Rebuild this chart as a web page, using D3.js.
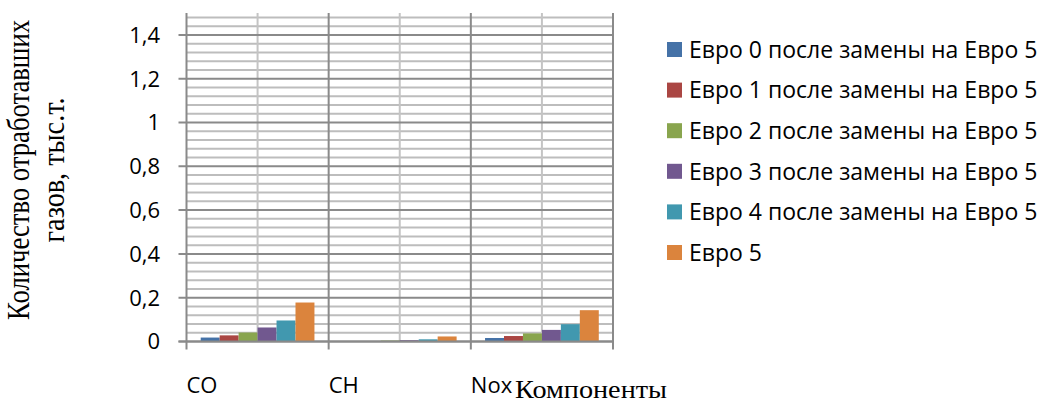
<!DOCTYPE html>
<html>
<head>
<meta charset="utf-8">
<script src="https://cdn.jsdelivr.net/npm/d3@7"></script>
<style>
  html, body { margin: 0; padding: 0; background: #fff; }
  svg { display: block; }
</style>
</head>
<body>
<svg id="chart" width="1042" height="403"></svg>
<script>
// Exhaust gas components
const categories = ["CO", "CH", "Nox"];

// Emissions per component, thousand tonnes
const euro0to5 = [0.018, 0.0005, 0.016];
const euro1to5 = [0.028, 0.001, 0.025];
const euro2to5 = [0.041, 0.004, 0.037];
const euro3to5 = [0.064, 0.006, 0.053];
const euro4to5 = [0.096, 0.010, 0.079];
const euro5    = [0.178, 0.023, 0.143];

const seriesNames = [
  "Евро 0 после замены на Евро 5",
  "Евро 1 после замены на Евро 5",
  "Евро 2 после замены на Евро 5",
  "Евро 3 после замены на Евро 5",
  "Евро 4 после замены на Евро 5",
  "Евро 5"
];
const seriesValues = [euro0to5, euro1to5, euro2to5, euro3to5, euro4to5, euro5];
const seriesColors = ["#4572a7", "#aa4643", "#89a54e", "#71588f", "#4198af", "#db843d"];

const yMajorTicks = [0, 0.2, 0.4, 0.6, 0.8, 1.0, 1.2, 1.4];
const yTickLabels = ["0", "0,2", "0,4", "0,6", "0,8", "1", "1,2", "1,4"];
const yMinorStep = 0.04;
const yMax = 1.5;

const yTitleLines = ["Количество отработавших", "газов, тыс.т."];
const xTitle = "Компоненты";

const svg = d3.select("#chart");
const plot = { left: 186.5, right: 613, top: 13, bottom: 341.5 };

const x = d3.scaleBand().domain(categories).range([plot.left, plot.right]).paddingInner(0).paddingOuter(0);
const y = d3.scaleLinear().domain([0, yMax]).range([plot.bottom, plot.top]);

// Gap width 150%: 6 bars + 1.5 bar widths of gap per category
const barW = x.bandwidth() / (seriesNames.length + 1.5);
const xs = d3.scaleBand().domain(d3.range(seriesNames.length))
  .range([barW * 0.75, barW * 0.75 + barW * seriesNames.length]).padding(0);

const sansFont = "'Open Sans', Lato, sans-serif";
const serifFont = "'Liberation Serif', 'DejaVu Serif', serif";

// Minor horizontal gridlines
const minorTicks = d3.range(0, yMax - 1e-9, yMinorStep).filter(v => Math.abs(v / 0.2 - Math.round(v / 0.2)) > 1e-6);
svg.append("g").selectAll("line").data(minorTicks).join("line")
  .attr("x1", plot.left).attr("x2", plot.right)
  .attr("y1", d => y(d)).attr("y2", d => y(d))
  .attr("stroke", "#bdbdbd").attr("stroke-width", 2);

// Vertical gridlines: light at category centres, darker at category edges
svg.append("g").selectAll("line").data(categories).join("line")
  .attr("x1", d => x(d) + x.bandwidth() / 2).attr("x2", d => x(d) + x.bandwidth() / 2)
  .attr("y1", plot.top).attr("y2", plot.bottom)
  .attr("stroke", "#c4c4c4").attr("stroke-width", 2);

const edges = categories.map(c => x(c)).concat([plot.right]);
svg.append("g").selectAll("line").data(edges).join("line")
  .attr("x1", d => d).attr("x2", d => d)
  .attr("y1", plot.top).attr("y2", plot.bottom + 8)
  .attr("stroke", "#8a8a8a").attr("stroke-width", 2);

// Major horizontal gridlines with ticks left of the axis
svg.append("g").selectAll("line").data(yMajorTicks).join("line")
  .attr("x1", plot.left - 8).attr("x2", plot.right)
  .attr("y1", d => y(d)).attr("y2", d => y(d))
  .attr("stroke", "#8a8a8a").attr("stroke-width", 2);

// Bars
const groups = svg.append("g").selectAll("g").data(seriesValues).join("g")
  .attr("fill", (d, i) => seriesColors[i]);
groups.each(function(vals, si) {
  d3.select(this).selectAll("rect").data(vals).join("rect")
    .attr("x", (v, ci) => x(categories[ci]) + xs(si))
    .attr("width", xs.bandwidth())
    .attr("y", v => y(v))
    .attr("height", v => y(0) - y(v));
});

// X axis line on top of bars
svg.append("line")
  .attr("x1", plot.left - 8).attr("x2", plot.right)
  .attr("y1", y(0)).attr("y2", y(0))
  .attr("stroke", "#8a8a8a").attr("stroke-width", 2);

// Y tick labels
svg.append("g").selectAll("text").data(yMajorTicks).join("text")
  .attr("x", 160).attr("y", d => y(d))
  .attr("dy", "0.36em")
  .attr("text-anchor", "end")
  .attr("font-family", sansFont).attr("font-size", 22)
  .attr("fill", "#000")
  .text((d, i) => yTickLabels[i]);

// Category labels, left-aligned at each category edge
svg.append("g").selectAll("text").data(categories).join("text")
  .attr("x", d => x(d)).attr("y", 393)
  .attr("font-family", sansFont).attr("font-size", 22)
  .attr("fill", "#000")
  .text(d => d);

// X axis title
svg.append("text")
  .attr("x", 515).attr("y", 398)
  .attr("font-family", serifFont).attr("font-size", 26)
  .attr("textLength", 152).attr("lengthAdjust", "spacingAndGlyphs")
  .attr("fill", "#000")
  .text(xTitle);

// Y axis title (rotated, two centred lines, glyphs drawn taller than wide)
const yTitleLengths = [300, 145];
const yTitleStretch = 1.25;
const yTitle = svg.append("text")
  .attr("transform", `translate(0,170) rotate(-90) scale(1,${yTitleStretch})`)
  .attr("text-anchor", "middle")
  .attr("font-family", serifFont).attr("font-size", 26)
  .attr("fill", "#000");
yTitle.selectAll("tspan").data(yTitleLines).join("tspan")
  .attr("x", 0).attr("y", (d, i) => (28.5 + i * 36) / yTitleStretch)
  .attr("textLength", (d, i) => yTitleLengths[i])
  .attr("lengthAdjust", "spacingAndGlyphs")
  .text(d => d);

// Legend
const legend = svg.append("g").selectAll("g").data(seriesNames).join("g")
  .attr("transform", (d, i) => `translate(667,${49.5 + i * 40.6})`);
legend.append("rect")
  .attr("x", 0).attr("y", -7.5).attr("width", 15).attr("height", 15)
  .attr("fill", (d, i) => seriesColors[i]);
legend.append("text")
  .attr("x", 22).attr("y", 0).attr("dy", "0.36em")
  .attr("font-family", sansFont).attr("font-size", 23)
  .attr("fill", "#000")
  .text(d => d);
</script>
</body>
</html>
